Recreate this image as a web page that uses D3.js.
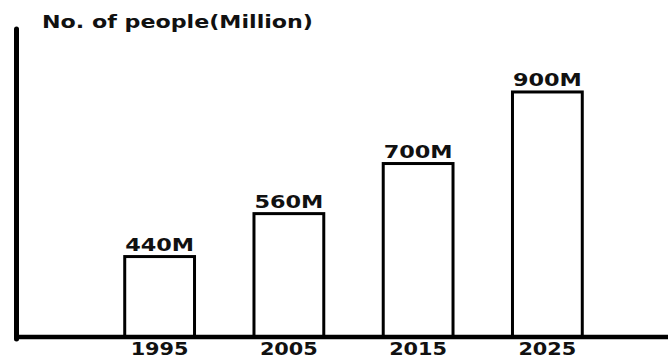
<!DOCTYPE html>
<html>
<head>
<meta charset="utf-8">
<script src="https://cdn.jsdelivr.net/npm/d3@7"></script>
<style>
  html, body { margin: 0; padding: 0; background: #fff; }
  svg { display: block; font-family: "DejaVu Sans", Verdana, sans-serif; font-weight: bold; }
</style>
</head>
<body>
<div id="chart"></div>
<script>
const years = ["1995", "2005", "2015", "2025"];
const people = [440, 560, 700, 900];
const valueLabels = ["440M", "560M", "700M", "900M"];
const title = "No. of people(Million)";

const width = 668;
const height = 362;
const baseY = 337;

const svg = d3.select("#chart").append("svg")
  .attr("width", width)
  .attr("height", height);

const x = d3.scaleBand()
  .domain(years)
  .range([95, 612])
  .paddingInner(0.46)
  .paddingOuter(0.23);

// hand-drawn chart: baseline is not at zero
const y = d3.scaleLinear()
  .domain([211, 1069])
  .range([baseY, 30]);

const data = years.map((yr, i) => ({ year: yr, value: people[i], label: valueLabels[i] }));

// bars
svg.append("g")
  .selectAll("rect")
  .data(data)
  .join("rect")
  .attr("x", (d) => x(d.year))
  .attr("y", (d) => y(d.value) + 1.5)
  .attr("width", x.bandwidth())
  .attr("height", (d) => baseY - y(d.value) - 1.5)
  .attr("fill", "#fff")
  .attr("stroke", "#000")
  .attr("stroke-width", 3);

// value labels
svg.append("g")
  .selectAll("text")
  .data(data)
  .join("text")
  .attr("x", (d) => x(d.year) + x.bandwidth() / 2)
  .attr("y", (d) => y(d.value) - 4)
  .attr("text-anchor", "middle")
  .attr("font-size", "17px")
  .attr("fill", "#111")
  .attr("textLength", 69)
  .attr("lengthAdjust", "spacingAndGlyphs")
  .text((d) => d.label);

// x axis labels
svg.append("g")
  .attr("transform", `translate(0,${baseY})`)
  .call(d3.axisBottom(x).tickSize(0).tickPadding(6))
  .call((g) => g.select(".domain").remove())
  .call((g) => g.selectAll("text")
    .attr("font-family", "DejaVu Sans, Verdana, sans-serif")
    .attr("font-weight", "bold")
    .attr("font-size", "17px")
    .attr("fill", "#111")
    .attr("textLength", 58)
    .attr("lengthAdjust", "spacingAndGlyphs"));

// axis lines
svg.append("line")
  .attr("x1", 14).attr("x2", width)
  .attr("y1", baseY).attr("y2", baseY)
  .attr("stroke", "#000")
  .attr("stroke-width", 4.5);

svg.append("line")
  .attr("x1", 16.5).attr("x2", 16.5)
  .attr("y1", 29).attr("y2", baseY + 2)
  .attr("stroke", "#000")
  .attr("stroke-width", 5)
  .attr("stroke-linecap", "round");

// title
svg.append("text")
  .attr("x", 42)
  .attr("y", 28)
  .attr("font-size", "18px")
  .attr("fill", "#111")
  .attr("textLength", 271)
  .attr("lengthAdjust", "spacingAndGlyphs")
  .text(title);
</script>
</body>
</html>
